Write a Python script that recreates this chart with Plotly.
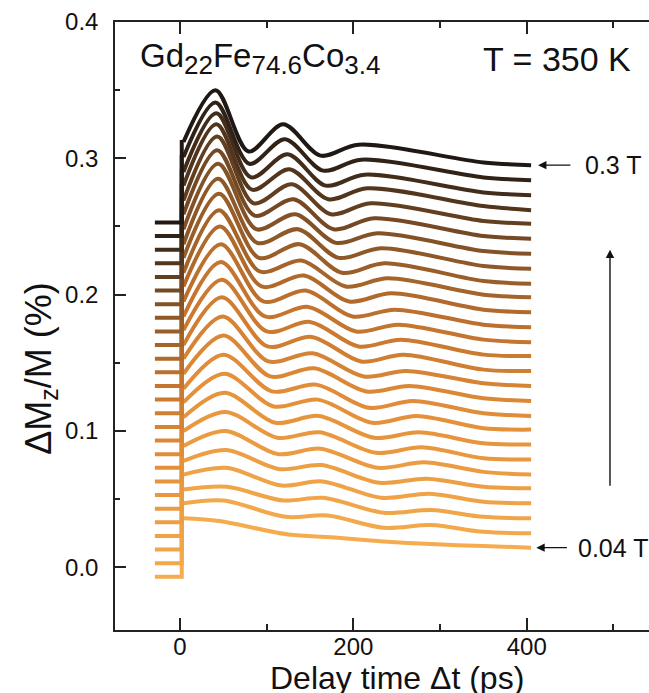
import plotly.graph_objects as go
from plotly.colors import sample_colorscale

# ---------------- data ----------------
FIELDS_T = [0.04, 0.05, 0.06, 0.07, 0.08, 0.09, 0.10, 0.11, 0.12, 0.13, 0.14, 0.15, 0.16, 0.17,
            0.18, 0.19, 0.20, 0.21, 0.22, 0.23, 0.24, 0.25, 0.26, 0.27, 0.28, 0.29, 0.30]

# characteristic times (ps)
T_PRE_START = -29
T_JUMP = 2
T_POST = 4
T_TAIL = 350
T_END = 405

# pre-zero baseline of each trace (offset stack)
BASE = [-0.007, 0.003, 0.013, 0.023, 0.033, 0.043, 0.053, 0.063, 0.073, 0.083, 0.093, 0.103, 0.113, 0.123,
        0.133, 0.143, 0.153, 0.163, 0.173, 0.183, 0.193, 0.203, 0.213, 0.223, 0.233, 0.243, 0.253]
# level just after the jump at t = 0
POST = [0.036, 0.047, 0.057, 0.068, 0.078, 0.089, 0.100, 0.110, 0.121, 0.131, 0.142, 0.153, 0.163, 0.174,
        0.184, 0.195, 0.206, 0.216, 0.227, 0.237, 0.248, 0.259, 0.269, 0.280, 0.290, 0.301, 0.312]
# first maximum
T1 = [45, 50, 54, 53, 53, 52, 52, 51, 51, 50, 50, 49, 48, 48, 47, 47, 46, 45, 45, 44, 44, 43, 43, 42, 42, 41, 41]
P1 = [0.034, 0.049, 0.059, 0.073, 0.086, 0.100, 0.114, 0.128, 0.142, 0.156, 0.170, 0.184, 0.198, 0.211,
      0.224, 0.237, 0.250, 0.262, 0.274, 0.285, 0.296, 0.306, 0.316, 0.325, 0.333, 0.341, 0.350]
# first minimum
TM1 = [125, 122, 119, 117, 115, 113, 112, 110, 108, 106, 104, 102, 101, 100, 98, 96, 94, 92, 91, 89, 88, 86,
       85, 83, 82, 80, 79]
M1 = [0.024, 0.037, 0.049, 0.060, 0.072, 0.083, 0.095, 0.106, 0.118, 0.129, 0.140, 0.151, 0.162, 0.173,
      0.184, 0.195, 0.206, 0.217, 0.227, 0.238, 0.248, 0.258, 0.267, 0.277, 0.286, 0.296, 0.305]
# second maximum
T2 = [175, 170, 165, 164, 163, 162, 161, 160, 159, 157, 155, 153, 152, 150, 148, 145, 143, 140, 138, 136,
      133, 131, 129, 126, 124, 121, 119]
P2 = [0.022, 0.038, 0.051, 0.063, 0.075, 0.087, 0.099, 0.111, 0.123, 0.134, 0.146, 0.157, 0.169, 0.180,
      0.191, 0.203, 0.214, 0.225, 0.237, 0.248, 0.259, 0.270, 0.281, 0.292, 0.303, 0.314, 0.325]
# second minimum
TM2 = [235, 235, 235, 232, 230, 228, 226, 224, 222, 218, 215, 212, 209, 206, 203, 199, 195, 191, 187, 183,
       180, 177, 174, 171, 168, 165, 162]
M2 = [0.019, 0.029, 0.040, 0.051, 0.062, 0.073, 0.084, 0.095, 0.106, 0.117, 0.129, 0.140, 0.151, 0.162,
      0.173, 0.184, 0.195, 0.206, 0.216, 0.227, 0.238, 0.248, 0.259, 0.270, 0.280, 0.291, 0.302]
# third maximum
T3 = [290, 290, 290, 288, 285, 282, 279, 276, 273, 269, 265, 261, 258, 255, 252, 248, 244, 240, 236, 232,
      228, 224, 220, 216, 213, 209, 206]
P3 = [0.017, 0.031, 0.042, 0.054, 0.065, 0.077, 0.088, 0.099, 0.111, 0.122, 0.133, 0.144, 0.156, 0.167,
      0.178, 0.189, 0.201, 0.212, 0.223, 0.234, 0.245, 0.256, 0.267, 0.278, 0.288, 0.299, 0.310]
# late-time values
TAIL = [0.0156, 0.026, 0.037, 0.048, 0.059, 0.070, 0.080, 0.091, 0.102, 0.113, 0.124, 0.135, 0.145, 0.156,
        0.167, 0.178, 0.189, 0.200, 0.210, 0.221, 0.232, 0.243, 0.254, 0.265, 0.275, 0.286, 0.297]
END = [0.0144, 0.025, 0.036, 0.047, 0.058, 0.068, 0.079, 0.090, 0.101, 0.111, 0.122, 0.133, 0.144, 0.155,
       0.165, 0.176, 0.187, 0.198, 0.208, 0.219, 0.230, 0.241, 0.252, 0.262, 0.273, 0.284, 0.295]

X_TICKS = [0, 200, 400]
X_MINOR = [100, 300, 500]
Y_TICKS = [0.0, 0.1, 0.2, 0.3, 0.4]
Y_TICKTEXT = ["0.0", "0.1", "0.2", "0.3", "0.4"]
Y_MINOR = [0.05, 0.15, 0.25, 0.35]

# ---------------- styling ----------------
FONT = "Liberation Sans, Arial, Helvetica, sans-serif"
AX = "#222222"
SCALE = [[0.0, "rgb(244,172,78)"], [0.3, "rgb(230,146,58)"], [0.55, "rgb(196,116,46)"],
         [0.78, "rgb(128,80,38)"], [1.0, "rgb(32,24,20)"]]
LW = 4.0

n = len(FIELDS_T)
colors = sample_colorscale(SCALE, [i / (n - 1) for i in range(n)])

fig = go.Figure()
for i in range(n):
    c = colors[i]
    # pre-zero part and the step
    fig.add_trace(go.Scatter(
        x=[T_PRE_START, T_JUMP, T_JUMP, T_POST],
        y=[BASE[i], BASE[i], POST[i], POST[i]],
        mode="lines", line=dict(color=c, width=LW), hoverinfo="skip", showlegend=False))
    # precession part
    fig.add_trace(go.Scatter(
        x=[T_POST, T1[i], TM1[i], T2[i], TM2[i], T3[i], T_TAIL, T_END],
        y=[POST[i], P1[i], M1[i], P2[i], M2[i], P3[i], TAIL[i], END[i]],
        mode="lines", line=dict(color=c, width=LW, shape="spline", smoothing=0.9),
        name=f"{FIELDS_T[i]:.2f} T", hoverinfo="skip", showlegend=False))

SUB = "<sub><span style='font-size:26px'>{}</span></sub>"
title_text = "Gd" + SUB.format("22") + "Fe" + SUB.format("74.6") + "Co" + SUB.format("3.4")

annos = [
    dict(x=-49, y=0.373, xref="x", yref="y", xanchor="left", yanchor="middle",
         text=title_text, showarrow=False,
         font=dict(family=FONT, size=33, color="#111")),
    dict(x=523, y=0.373, xref="x", yref="y", xanchor="right", yanchor="middle",
         text="T = 350 K", showarrow=False, font=dict(family=FONT, size=34, color="#111")),
    # arrows to labelled traces
    dict(x=413, y=END[-1], ax=452, ay=END[-1], xref="x", yref="y", axref="x", ayref="y",
         text="", showarrow=True, arrowhead=2, arrowsize=1.2, arrowwidth=1.4, arrowcolor="#111"),
    dict(x=465, y=END[-1], xref="x", yref="y", xanchor="left", yanchor="middle",
         text=f"{FIELDS_T[-1]:.1f} T", showarrow=False, font=dict(family=FONT, size=25, color="#111")),
    dict(x=411, y=END[0], ax=448, ay=END[0], xref="x", yref="y", axref="x", ayref="y",
         text="", showarrow=True, arrowhead=2, arrowsize=1.2, arrowwidth=1.4, arrowcolor="#111"),
    dict(x=457, y=END[0], xref="x", yref="y", xanchor="left", yanchor="middle",
         text=f"{FIELDS_T[0]:.2f} T", showarrow=False, font=dict(family=FONT, size=25, color="#111")),
    # field-increase arrow
    dict(x=496, y=0.233, ax=496, ay=0.0587, xref="x", yref="y", axref="x", ayref="y",
         text="", showarrow=True, arrowhead=2, arrowsize=1.2, arrowwidth=1.4, arrowcolor="#111"),
    # axis titles
    dict(x=250, y=-0.079, xref="x", yref="paper", xanchor="center", yanchor="middle",
         text="Delay time \u0394t (ps)", showarrow=False, font=dict(family=FONT, size=32, color="#111")),
    dict(x=-0.14, y=0.43, xref="paper", yref="paper", xanchor="center", yanchor="middle",
         text="\u0394M<sub>z</sub>/M (%)", textangle=-90, showarrow=False,
         font=dict(family=FONT, size=36, color="#111")),
]

fig.update_layout(
    width=649, height=693,
    margin=dict(l=115, r=0, t=22, b=63),
    paper_bgcolor="white", plot_bgcolor="white",
    font=dict(family=FONT, color="#111"),
    annotations=annos,
    xaxis=dict(range=[-75, 541], showline=True, linecolor=AX, linewidth=1.5, mirror="ticks",
               ticks="inside", ticklen=12, tickwidth=1.5, tickcolor=AX, automargin=False,
               tickvals=X_TICKS, tickfont=dict(family=FONT, size=24, color="#111"),
               minor=dict(ticks="inside", ticklen=6, tickwidth=1.5, tickcolor=AX, tickvals=X_MINOR),
               showgrid=False, zeroline=False, ticklabelstandoff=-6),
    yaxis=dict(range=[-0.046, 0.4], showline=True, linecolor=AX, linewidth=1.5, mirror=False,
               ticks="inside", ticklen=11, tickwidth=1.5, tickcolor=AX, automargin=False,
               tickvals=Y_TICKS, ticktext=Y_TICKTEXT, tickfont=dict(family=FONT, size=24, color="#111"),
               minor=dict(ticks="inside", ticklen=5, tickwidth=1.5, tickcolor=AX, tickvals=Y_MINOR),
               showgrid=False, zeroline=False, ticklabelstandoff=10),
)

fig.write_html("out.html", config={"displayModeBar": False},
               post_script="document.body.style.margin='0px';document.body.style.overflow='hidden';")
